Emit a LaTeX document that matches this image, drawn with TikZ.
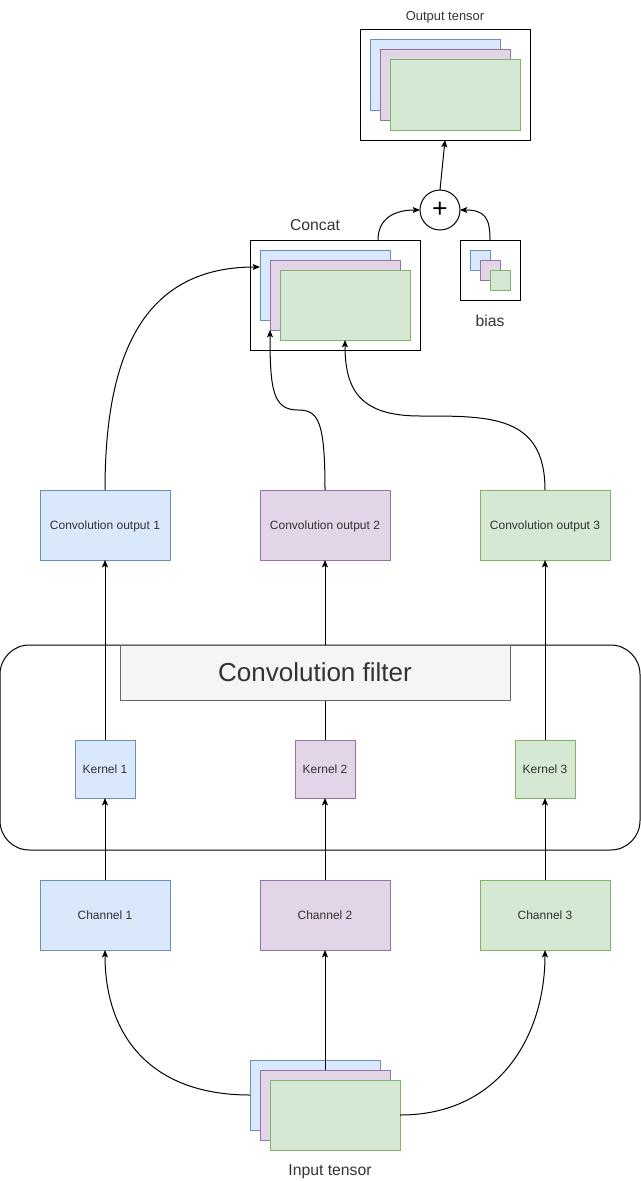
\documentclass[tikz,border=0pt]{standalone}
\usepackage{fontspec}
\setmainfont{Liberation Sans}
\usetikzlibrary{arrows.meta,calc}
\definecolor{bfill}{HTML}{DAE8FC}\definecolor{bline}{HTML}{6C8EBF}
\definecolor{pfill}{HTML}{E1D5E7}\definecolor{pline}{HTML}{9673A6}
\definecolor{gfill}{HTML}{D5E8D4}\definecolor{gline}{HTML}{82B366}
\definecolor{txt}{HTML}{333333}
\definecolor{tfill}{HTML}{F5F5F5}\definecolor{tline}{HTML}{666666}
\begin{document}
\begin{tikzpicture}[x=0.75pt,y=-0.75pt,line width=0.75pt,
 every node/.style={inner sep=0pt,outer sep=0pt,text=txt,text height=6.6pt,text depth=0pt},
 blu/.style={draw=bline,fill=bfill},
 pur/.style={draw=pline,fill=pfill},
 grn/.style={draw=gline,fill=gfill},
 big/.style={minimum width=97.5pt,minimum height=52.5pt,font=\fontsize{9}{11}\selectfont},
 kern/.style={minimum width=45pt,minimum height=43.5pt,font=\fontsize{9}{11}\selectfont},
 layer/.style={minimum width=97.5pt,minimum height=52.5pt},
 frame/.style={draw=black,fill=white,minimum width=127.5pt,minimum height=82.5pt},
 small/.style={minimum width=15pt,minimum height=15pt},
 arr/.style={-{Stealth[length=5.5pt,width=4.5pt,inset=1.2pt]},line width=0.75pt},
 lbl/.style={font=\fontsize{11.8}{13}\selectfont,text height=8.5pt}
]
\useasboundingbox (0,0) rectangle (641,1181);

% output tensor
\node[frame] (out) at (445,85) {};
\node[layer,blu] (o1) at (435,75) {};
\node[layer,pur] (o2) at (445,85) {};
\node[layer,grn] (o3) at (455,95) {};
\node[font=\fontsize{9.7}{11}\selectfont,text height=7pt] (outlbl) at (445,16) {Output tensor};

% plus
\node[circle,draw=black,fill=white,minimum size=30pt,text height=,text depth=,font=\fontsize{20}{20}\selectfont,text=black] (plus) at (440,210) {+};

% concat
\node[frame] (concat) at (335,295) {};
\node[layer,blu] (c1) at (325,285) {};
\node[layer,pur] (c2) at (335,295) {};
\node[layer,grn] (c3) at (345,305) {};
\node[lbl] (conlbl) at (315,225) {Concat};

% bias
\node[draw=black,fill=white,minimum size=45pt] (bias) at (490,270) {};
\node[small,blu] (b1) at (480,260) {};
\node[small,pur] (b2) at (490,270) {};
\node[small,grn] (b3) at (500,280) {};
\node[lbl] (biaslbl) at (490,321) {bias};

% convolution outputs
\node[big,blu] (co1) at (105,525) {Convolution output 1};
\node[big,pur] (co2) at (325,525) {Convolution output 2};
\node[big,grn] (co3) at (545,525) {Convolution output 3};

% filter frame
\node[draw=black,rounded corners=22pt,minimum width=480pt,minimum height=153.75pt] (filter) at (320,747.5) {};

% kernels
\node[kern,blu] (k1) at (105,769) {Kernel 1};
\node[kern,pur] (k2) at (325,769) {Kernel 2};
\node[kern,grn] (k3) at (545,769) {Kernel 3};

% channels
\node[big,blu] (ch1) at (105,915) {Channel 1};
\node[big,pur] (ch2) at (325,915) {Channel 2};
\node[big,grn] (ch3) at (545,915) {Channel 3};

% input tensor
\node[layer,blu] (i1) at (315,1095) {};
\node[layer,pur] (i2) at (325,1105) {};
\node[layer,grn] (i3) at (335,1115) {};
\node[lbl] (inlbl) at (330,1170) {Input tensor};

% connectors
\draw[arr] (k1.north) -- (co1.south);
\draw[arr] (k2.north) -- (co2.south);
\draw[arr] (k3.north) -- (co3.south);
\node[draw=tline,fill=tfill,minimum width=292.5pt,minimum height=41.25pt,text height=14pt,font=\fontsize{19.5}{21}\selectfont] (title) at (315,672.5) {Convolution filter};

\draw[arr] (ch1.north) -- (k1.south);
\draw[arr] (ch2.north) -- (k2.south);
\draw[arr] (ch3.north) -- (k3.south);

\draw[arr] (i2.north) -- (ch2.south);
\draw[arr] (i1.west) .. controls +(-100,0) and +(0,85) .. (ch1.south);
\draw[arr] (i3.east) .. controls +(100,0) and +(0,85) .. (ch3.south);

\coordinate (m2) at (298,410);
\coordinate (m3) at (420,416);
\draw[arr] (co1.north) .. controls +(0,-130) and +(-120,0) .. ($(c1.north west)+(0,17)$);
\draw[arr] (co2.north) .. controls +(0,-70) and +(20,0) .. (m2) .. controls +(-25,0) and +(0,60) .. (c2.south west);
\draw[arr] (co3.north) .. controls +(0,-75) and +(70,0) .. (m3) .. controls +(-60,0) and +(0,50) .. (c3.south);

\draw[arr] ($(concat.north)+(43,0)$) .. controls +(0,-22) and +(-25,0) .. (plus.west);
\draw[arr] (bias.north) .. controls +(0,-22) and +(25,0) .. (plus.east);
\draw[arr] (plus.north) -- (out.south);
\end{tikzpicture}
\end{document}
